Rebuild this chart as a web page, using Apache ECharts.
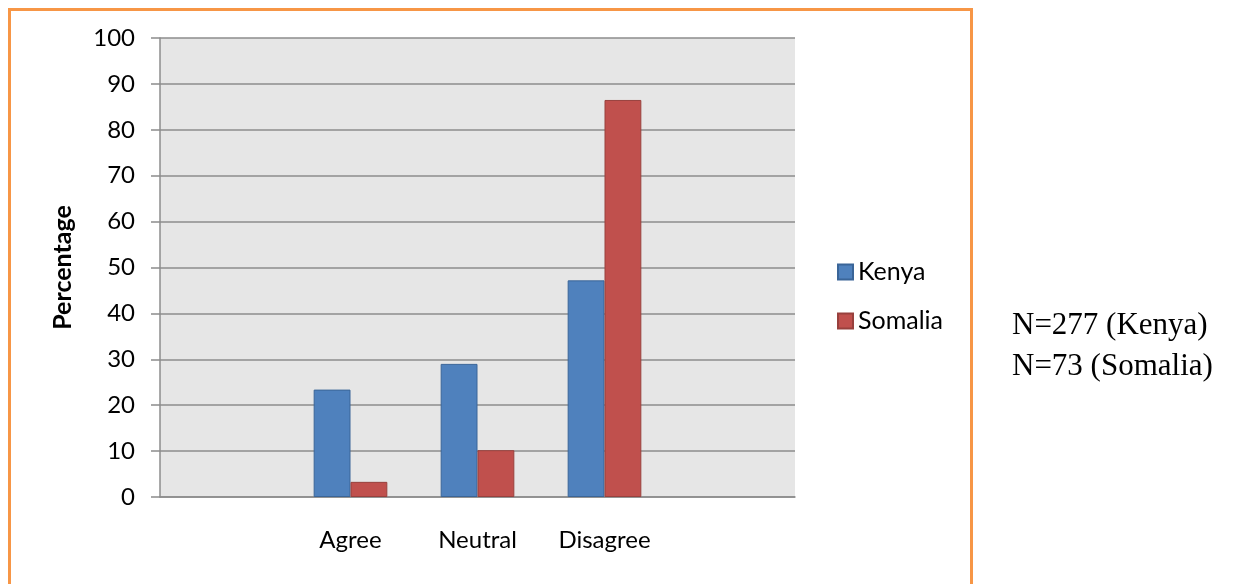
<!DOCTYPE html>
<html><head><meta charset="utf-8">
<script src="https://cdn.jsdelivr.net/npm/echarts@6/dist/echarts.min.js"></script>
<style>html,body{margin:0;padding:0;background:#fff;}#c{width:1235px;height:584px;}</style>
</head><body><div id="c"></div>
<script>
const categories = ['', 'Agree', 'Neutral', 'Disagree', ''];
const kenya = [null, 23.4, 29.0, 47.2, null];
const somalia = [null, 3.3, 10.2, 86.5, null];
const yTicks = [0, 10, 20, 30, 40, 50, 60, 70, 80, 90, 100];
const notes = ['N=277 (Kenya)', 'N=73 (Somalia)'];

const font = 'Lato, "Open Sans", sans-serif';
const serif = '"Liberation Serif", "Times New Roman", serif';
const chart = echarts.init(document.getElementById('c'), null, {renderer: 'canvas'});
chart.setOption({
  animation: false,
  backgroundColor: '#fff',
  grid: {left: 160, top: 38, width: 635, height: 459, show: true, backgroundColor: '#E6E6E6', borderWidth: 0},
  legend: {
    orient: 'vertical', left: 837, top: 259.5, padding: 0, itemWidth: 15, itemHeight: 15, itemGap: 24,
    icon: 'rect',
    textStyle: {fontFamily: font, fontSize: 25, color: '#000'},
    data: ['Kenya', 'Somalia']
  },
  xAxis: {
    type: 'category', data: categories,
    axisLine: {show: true, lineStyle: {color: '#8C8C8C', width: 1.5}},
    axisTick: {show: false},
    axisLabel: {fontFamily: font, fontSize: 24, color: '#000', margin: 31}
  },
  yAxis: {
    type: 'value', min: yTicks[0], max: yTicks[yTicks.length-1], interval: 10,
    name: 'Percentage', nameLocation: 'middle', nameGap: 85, nameRotate: 90,
    nameTextStyle: {fontFamily: font, fontSize: 25, fontWeight: 'bold', color: '#000'},
    axisLine: {show: true, lineStyle: {color: '#8C8C8C', width: 1.5}},
    axisTick: {show: true, length: 9, lineStyle: {color: '#8C8C8C', width: 1.5}},
    axisLabel: {fontFamily: font, fontSize: 24, color: '#000', margin: 25},
    splitLine: {show: true, lineStyle: {color: '#8C8C8C', width: 1.5}}
  },
  series: [
    {name: 'Kenya', type: 'bar', data: kenya, barGap: '0%', barCategoryGap: '42%',
     itemStyle: {color: '#4F81BD', borderColor: '#3A6598', borderWidth: 1}},
    {name: 'Somalia', type: 'bar', data: somalia,
     itemStyle: {color: '#C0504D', borderColor: '#98403D', borderWidth: 1}}
  ],
  graphic: [
    {type: 'rect', shape: {x: 9.5, y: 9.5, width: 962, height: 600}, style: {fill: null, stroke: '#F79646', lineWidth: 3}, silent: true},
    {type: 'text', x: 1012, y: 326, style: {text: notes[0], font: '31px ' + serif, fill: '#000', verticalAlign: 'middle'}},
    {type: 'text', x: 1012, y: 367, style: {text: notes[1], font: '31px ' + serif, fill: '#000', verticalAlign: 'middle'}}
  ]
});
</script></body></html>
